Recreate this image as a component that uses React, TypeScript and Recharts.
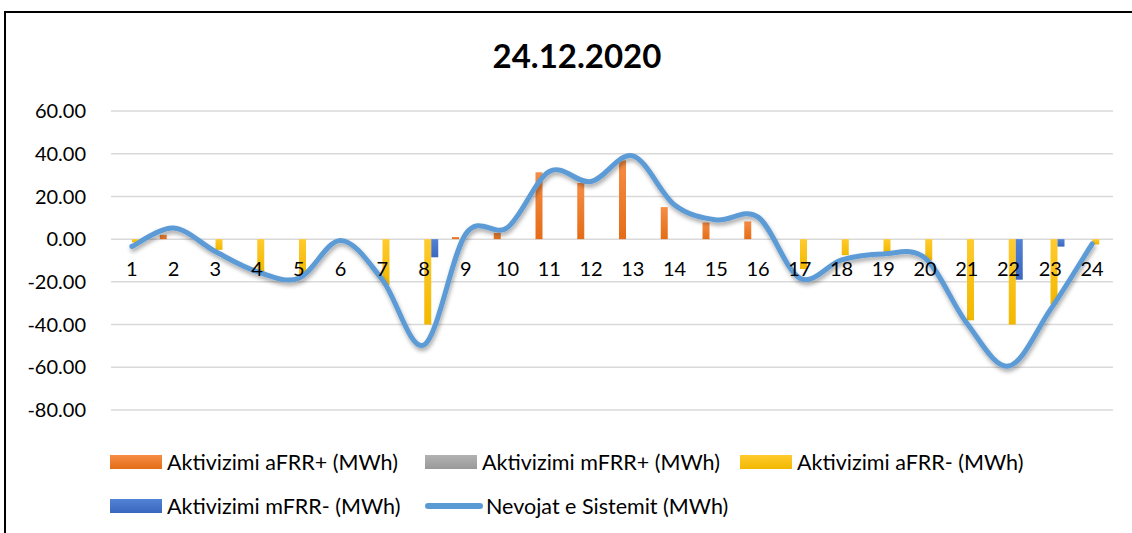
import {
  ComposedChart,
  Bar,
  Line,
  XAxis,
  YAxis,
  CartesianGrid,
  Legend,
} from "recharts";

const hours = ["1", "2", "3", "4", "5", "6", "7", "8", "9", "10", "11", "12", "13", "14", "15", "16", "17", "18", "19", "20", "21", "22", "23", "24"];
const aFRRPlus = [0, 2, 0, 0, 0, 0, 0, 0, 1, 3, 31.3, 26.3, 36.9, 15, 7.8, 8.3, 0, 0, 0, 0, 0, 0, 0, 0];
const mFRRPlus = [0, 0, 0, 0, 0, 0, 0, 0, 0, 0, 0, 0, 0, 0, 0, 0, 0, 0, 0, 0, 0, 0, 0, 0];
const aFRRMinus = [-1.5, 0, -5, -15.5, -17, 0, -21.5, -40, 0, 0, 0, 0, 0, 0, 0, 0, -14, -7.5, -6, -10, -38, -40, -30.5, -2.5];
const mFRRMinus = [0, 0, 0, 0, 0, 0, 0, -8.5, 0, 0, 0, 0, 0, 0, 0, 0, 0, 0, 0, 0, 0, -19, -3.5, 0];
const systemNeeds = [-3.4, 5.2, -5.8, -15.2, -18.3, -0.6, -19, -49.5, 2.5, 5.5, 31.7, 27, 39, 16, 9, 10.3, -18.3, -9.7, -6.9, -8.9, -39.4, -59.4, -33, -2.2];
const yTicks = [-80, -60, -40, -20, 0, 20, 40, 60];

const seriesNames = {
  aFRRPlus: "Aktivizimi aFRR+ (MWh)",
  mFRRPlus: "Aktivizimi mFRR+ (MWh)",
  aFRRMinus: "Aktivizimi aFRR- (MWh)",
  mFRRMinus: "Aktivizimi mFRR- (MWh)",
  systemNeeds: "Nevojat e Sistemit (MWh)",
};
const legendOrder = ["aFRRPlus", "mFRRPlus", "aFRRMinus", "mFRRMinus", "systemNeeds"];

const FONT = "Lato, 'Noto Sans', sans-serif";
const W = 1132;
const H = 533;
const PLOT_TOP = 111;
const PLOT_BOTTOM = 410;
const Y_MIN = -80;
const Y_MAX = 60;
const ZERO_Y = PLOT_BOTTOM - ((0 - Y_MIN) / (Y_MAX - Y_MIN)) * (PLOT_BOTTOM - PLOT_TOP);

const data = hours.map((h, i) => ({
  hour: h,
  aFRRPlus: aFRRPlus[i],
  mFRRPlus: mFRRPlus[i],
  aFRRMinus: aFRRMinus[i],
  mFRRMinus: mFRRMinus[i],
  systemNeeds: systemNeeds[i],
}));

// excel style smoothing (catmull-rom through every point)
const excelSmooth = (context: any) => {
  let pts: number[][] = [];
  return {
    areaStart() {},
    areaEnd() {},
    lineStart() {
      pts = [];
    },
    point(x: number, y: number) {
      pts.push([+x, +y]);
    },
    lineEnd() {
      if (!pts.length) return;
      context.moveTo(pts[0][0], pts[0][1]);
      for (let i = 0; i < pts.length - 1; i++) {
        const p0 = pts[i - 1] || pts[i];
        const p1 = pts[i];
        const p2 = pts[i + 1];
        const p3 = pts[i + 2] || p2;
        const k = 1 / 6;
        context.bezierCurveTo(
          p1[0] + (p2[0] - p0[0]) * k,
          p1[1] + (p2[1] - p0[1]) * k,
          p2[0] - (p3[0] - p1[0]) * k,
          p2[1] - (p3[1] - p1[1]) * k,
          p2[0],
          p2[1]
        );
      }
    },
  };
};

const swatchBg: Record<string, string> = {
  aFRRPlus: "linear-gradient(#F68D45, #E46C17)",
  mFRRPlus: "linear-gradient(#B2B2B2, #999999)",
  aFRRMinus: "linear-gradient(#FFCB2E, #F2B800)",
  mFRRMinus: "linear-gradient(#5283D6, #3A67BE)",
};

const HourTick = (props: any) => {
  const { x, payload } = props;
  return (
    <text x={x} y={ZERO_Y + 37} textAnchor="middle" fontSize={20} fontFamily={FONT} fill="#000">
      {payload.value}
    </text>
  );
};

const LegendItem = ({ entry }: { entry: any }) => {
  const key = entry.dataKey as string;
  const isLine = key === "systemNeeds";
  return (
    <div style={{ display: "flex", alignItems: "center", width: 315, height: 28 }}>
      {isLine ? (
        <div style={{ width: 58, height: 6, borderRadius: 3, background: "#5B9BD5", marginRight: 3 }} />
      ) : (
        <div style={{ width: 52, height: 14, background: swatchBg[key], marginRight: 5 }} />
      )}
      <span style={{ fontFamily: FONT, fontSize: 21.5, color: "#000", whiteSpace: "nowrap" }}>{entry.value}</span>
    </div>
  );
};

const renderLegend = (props: any) => {
  const items = [...(props.payload || [])].sort(
    (a: any, b: any) => legendOrder.indexOf(a.dataKey) - legendOrder.indexOf(b.dataKey)
  );
  const row1 = items.slice(0, 3);
  const row2 = items.slice(3);
  return (
    <div style={{ paddingLeft: 110 }}>
      <div style={{ display: "flex", marginBottom: 16 }}>
        {row1.map((e: any) => (
          <LegendItem key={e.value} entry={e} />
        ))}
      </div>
      <div style={{ display: "flex" }}>
        {row2.map((e: any) => (
          <LegendItem key={e.value} entry={e} />
        ))}
      </div>
    </div>
  );
};

const App = () => {
  return (
    <div style={{ position: "absolute", left: 0, top: 0, width: W, height: H, overflow: "hidden", background: "#fff" }}>
      <div
        style={{
          position: "absolute",
          left: 4,
          top: 11,
          width: 1200,
          height: 600,
          borderTop: "2px solid #000",
          borderLeft: "2px solid #000",
        }}
      />
      <ComposedChart
        width={W}
        height={H}
        data={data}
        barGap={0}
        margin={{ top: PLOT_TOP, right: 19, left: 21, bottom: 5 }}
      >
        <defs>
          <linearGradient id="gOrange" x1="0" y1="0" x2="0" y2="1">
            <stop offset="0%" stopColor="#F68D45" />
            <stop offset="100%" stopColor="#E46C17" />
          </linearGradient>
          <linearGradient id="gGray" x1="0" y1="0" x2="0" y2="1">
            <stop offset="0%" stopColor="#B2B2B2" />
            <stop offset="100%" stopColor="#999999" />
          </linearGradient>
          <linearGradient id="gYellow" x1="0" y1="0" x2="0" y2="1">
            <stop offset="0%" stopColor="#FFCB2E" />
            <stop offset="100%" stopColor="#F2B800" />
          </linearGradient>
          <linearGradient id="gBlue" x1="0" y1="0" x2="0" y2="1">
            <stop offset="0%" stopColor="#5283D6" />
            <stop offset="100%" stopColor="#3A67BE" />
          </linearGradient>
          <filter id="lineShadow" x="-10%" y="-20%" width="120%" height="140%">
            <feDropShadow dx="1" dy="3" stdDeviation="2" floodColor="#000" floodOpacity="0.35" />
          </filter>
        </defs>
        <text x={577} y={68} textAnchor="middle" fontFamily={FONT} fontWeight="bold" fontSize={33} fill="#000">
          24.12.2020
        </text>
        <CartesianGrid vertical={false} stroke="#D9D9D9" strokeWidth={1.5} />
        <XAxis
          dataKey="hour"
          height={38}
          axisLine={false}
          tickLine={false}
          interval={0}
          tick={<HourTick />}
        />
        <YAxis
          width={90}
          domain={[Y_MIN, Y_MAX]}
          ticks={yTicks}
          axisLine={false}
          tickLine={false}
          tickMargin={19}
          tickFormatter={(v: number) => v.toFixed(2)}
          tick={{ fontSize: 20, fontFamily: FONT, fill: "#000" }}
          allowDataOverflow
        />
        <Legend
          verticalAlign="bottom"
          content={renderLegend}
          wrapperStyle={{ left: 0, bottom: 5, width: W, height: 80 }}
        />
        <Bar dataKey="aFRRPlus" name={seriesNames.aFRRPlus} fill="url(#gOrange)" barSize={7} isAnimationActive={false} />
        <Bar dataKey="mFRRPlus" name={seriesNames.mFRRPlus} fill="url(#gGray)" barSize={7} isAnimationActive={false} />
        <Bar dataKey="aFRRMinus" name={seriesNames.aFRRMinus} fill="url(#gYellow)" barSize={7} isAnimationActive={false} />
        <Bar dataKey="mFRRMinus" name={seriesNames.mFRRMinus} fill="url(#gBlue)" barSize={7} isAnimationActive={false} />
        <Line
          dataKey="systemNeeds"
          name={seriesNames.systemNeeds}
          type={excelSmooth as any}
          stroke="#5B9BD5"
          strokeWidth={5}
          strokeLinecap="round"
          dot={false}
          activeDot={false}
          filter="url(#lineShadow)"
          isAnimationActive={false}
        />
      </ComposedChart>
    </div>
  );
};

export default App;
